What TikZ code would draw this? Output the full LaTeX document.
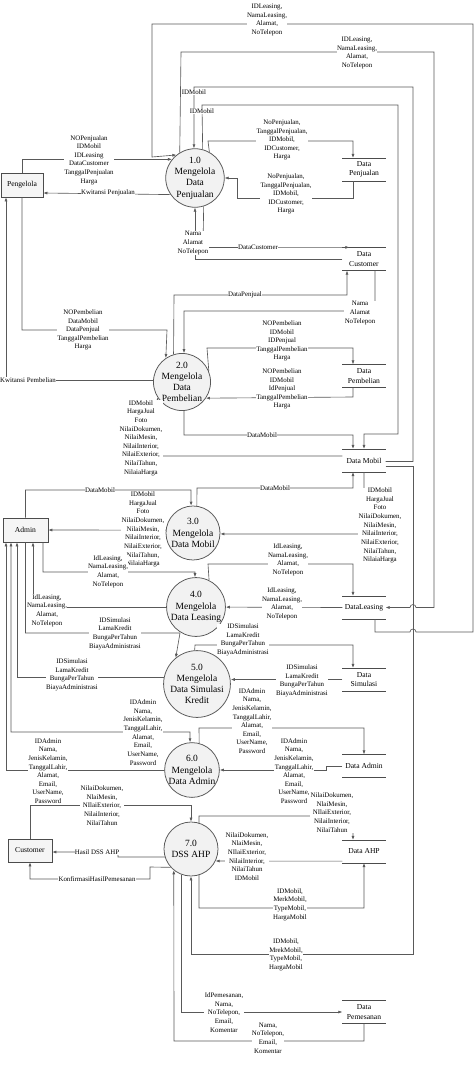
\documentclass[tikz,border=0pt]{standalone}
\usepackage{fontspec}
\setmainfont{Liberation Serif}
\usepackage{tikz}
\usetikzlibrary{arrows.meta,calc}

\begin{document}
\begin{tikzpicture}[
  x=0.5mm, y=-0.5mm,
  >={Latex[length=2mm,width=1.5mm]},
  process/.style={circle, draw=black!65, line width=1.1pt, fill=gray!10,
    minimum size=27mm, inner sep=0pt, align=center,
    font=\fontsize{13.5}{16}\selectfont},
  entity/.style={draw=black!70, line width=0.9pt, fill=gray!8,
    minimum height=12mm, inner sep=0pt, font=\fontsize{10.8}{13.7}\selectfont},
  store/.style={minimum width=21.5mm, minimum height=11.5mm, inner sep=0pt,
    align=center, font=\fontsize{10.8}{13.7}\selectfont},
  storeline/.style={draw=black!70, line width=0.9pt},
  flow/.style={->, draw=black!65, line width=0.9pt},
  lbl/.style={fill=white, inner sep=0.4pt, align=center,
    font=\fontsize{9.8}{12.3}\selectfont}
]
  \useasboundingbox (0,0) rectangle (475,1066);

  \node[entity, minimum width=21mm] (pengelola) at (22,185) {Pengelola};
  \node[entity, minimum width=22.5mm] (admin) at (25.5,530) {Admin};
  \node[entity, minimum width=22mm, minimum height=11.5mm] (customer) at (30,850.5) {Customer};

  \node[process] (penjualan) at (195,178) {1.0\\Mengelola\\Data\\Penjualan};
  \node[process] (pembelian) at (182,382) {2.0\\Mengelola\\Data\\Pembelian};
  \node[process] (mobil) at (193,533) {3.0\\Mengelola\\Data Mobil};
  \node[process] (leasing) at (196,607) {4.0\\Mengelola\\Data Leasing};
  \node[process] (simulasi) at (197,684) {5.0\\Mengelola\\Data Simulasi\\Kredit};
  \node[process] (kelola) at (192,770) {6.0\\Mengelola\\Data Admin};
  \node[process] (dss) at (191,849) {7.0\\DSS AHP};

  \node[store] (tPenjualan) at (364,169.5) {Data\\Penjualan};
  \node[store] (tCustomer) at (364,259) {Data\\Customer};
  \node[store] (tPembelian) at (364,376) {Data\\Pembelian};
  \node[store] (tMobil) at (364,460.5) {Data Mobil};
  \node[store] (tLeasing) at (364,607.5) {DataLeasing};
  \node[store] (tSimulasi) at (364,679.5) {Data\\Simulasi};
  \node[store] (tAdmin) at (364,766) {Data Admin};
  \node[store] (tAHP) at (364,851.5) {Data AHP};
  \node[store] (tPemesanan) at (364,1012) {Data\\Pemesanan};

  \foreach \s in {tPenjualan,tCustomer,tPembelian,tMobil,tLeasing,tSimulasi,tAdmin,tAHP,tPemesanan}
    \draw[storeline] (\s.north west) -- (\s.north east) (\s.south west) -- (\s.south east);

  \draw[flow] ($(tLeasing.south)+(11,0)$) -- (375,632) -- (410,632)
    arc[start angle=180, end angle=0, radius=1.5mm] -- (473,632) -- (473,24)
    -- (152,24) -- (152,157) -- (penjualan.129);
  \draw[flow] (pengelola.north) |- (penjualan.141);
  \draw[flow] (penjualan.121) -- (181,52) -- (434,52) -- (434,607.5) -- (416,607.5)
    arc[start angle=0, end angle=180, radius=1.5mm] -- (tLeasing.east);
  \draw[flow] ($(tMobil.east)+(0,1)$) -- (413,461.5) -- (413,87) -- (194,87) -- (penjualan.92);
  \draw[flow] (penjualan.75) -- (202,105) -- (398,105) -- (398,434) -- (364,434) -- (tMobil.north);
  \draw[flow] (penjualan.61) -- (208,141) -- (353,141) -- ($(tPenjualan.north)+(-11,0)$);
  \draw[flow] ($(tPenjualan.south)+(-11,0)$) -- (353,198) -- (237,198) -- (237,178) -- (penjualan.east);
  \draw[flow] (penjualan.214) -- ($(pengelola.east)+(0,8)$);
  \draw[flow] (penjualan.-73) -- (203,247.5) -- ($(tCustomer.north west)+(7,0)$);
  \draw[flow] (tCustomer.west) -| (penjualan.south);

  \draw[flow] (pengelola.south) -- (22,330) -- (167,330) -- (pembelian.124);
  \draw[flow] (pembelian.176) -| ($(pengelola.south)+(-16,0)$);
  \draw[flow] (pembelian.107) -- (174,295) -- (347,295) -- ($(tCustomer.south)+(-17,0)$);
  \draw[flow] ($(tCustomer.south)+(11,0)$) -- (375,311) -- (184,311) -- (pembelian.86);
  \draw[flow] (pembelian.22) -- (207,348) -- (353,348) -- ($(tPembelian.north)+(-11,0)$);
  \draw[flow] ($(tPembelian.south)+(-11,0)$) -- (353,397) -- (pembelian.-34);
  \draw[flow] (pembelian.-86) -- (184,435) -- (353,435) -- ($(tMobil.north)+(-11,0)$);
  \draw[flow] ($(tMobil.west)+(0,-4.5)$) -- (159,456) -- (pembelian.-148);

  \draw[flow] (admin.north) -- (25.5,490) -- (191,490) -- (mobil.94);
  \draw[flow] (mobil.82) -- (197,488) -- (353,488) -- ($(tMobil.south)+(-11,0)$);
  \draw[flow] (tMobil.south) -- (364,534) -- (mobil.-2);
  \draw[flow] (mobil.174) -- (admin.east);

  \draw[flow] ($(admin.south)+(17.5,0)$) -- (43,572) -- (195,572) -- (leasing.92);
  \draw[flow] (leasing.64) -- (208,564) -- (353,564) -- ($(tLeasing.north)+(-11,0)$);
  \draw[flow] (tLeasing.west) -- (leasing);
  \draw[flow] (leasing.west) -| ($(admin.south)+(7.5,0)$);

  \draw[flow] (admin.south) -- (25.5,633) -- (180,633) -- (simulasi.129);
  \draw[flow] (simulasi.169) -| ($(admin.south)+(-8.5,0)$);
  \draw[flow] (simulasi.94) -- (195,645) -- (353,645) -- ($(tSimulasi.north)+(-11,0)$);
  \draw[flow] (tSimulasi.west) -- (tSimulasi.west -| simulasi.east);

  \draw[flow, <->] ($(admin.south)+(-14.5,0)$) -- (11,732) -- (190,732) -- (kelola.94);
  \draw[flow] (kelola.west) -| ($(admin.south)+(-19.5,0)$);
  \draw[flow] (kelola.75) -- (199,728) -- (364,728) -- (tAdmin.north);
  \draw[flow] (tAdmin.west) -- (326,766) -- (326,770) -- (kelola.east);

  \draw[flow] (customer.north) -- (30,805) -- (191,805) -- (dss.north);
  \draw[flow] (dss.73) -- (199,816) -- (353,816) -- ($(tAHP.north)+(-11,0)$);
  \draw[flow] ($(tAHP.south west)+(0,-2)$) -- (dss.-26);
  \draw[flow] (dss.-73) -- (199,908) -- (364,908) -- (tAHP.south);
  \draw[flow] ($(tMobil.east)+(0,6)$) -- (413,466.5) -- (413,954) -- (191,954) -- (dss.south);
  \draw[flow] (dss.197) -- (118,857) -- (118,852) -- ($(customer.east)+(0,1.5)$);
  \draw[flow] (dss.222) -- (150,867) -- (150,879) -- (30,879) -- (customer.south);
  \draw[flow] (dss.-110) |- (tPemesanan.west);
  \draw[flow] (tPemesanan.south) -- (364,1041) -- (174,1041) -- (dss.-129);

  \node[lbl] (lbLeasOut) at (267,20) {IDLeasing,\\NamaLeasing,\\Alamat,\\NoTelepon};
  \node[lbl] (lbLeasIn) at (357,53) {IDLeasing,\\NamaLeasing,\\Alamat,\\NoTelepon};
  \node[lbl] (lbMobilA) at (194,92) {IDMobil};
  \node[lbl] (lbMobilB) at (202,111) {IDMobil};
  \node[lbl] (lbPengA) at (89,160) {NOPenjualan\\IDMobil\\IDLeasing\\DataCustomer\\TanggalPenjualan\\Harga};
  \node[lbl] (lbKwitA) at (108,193) {Kwitansi Penjualan};
  \node[lbl] (lbPenjA) at (282,140) {NoPenjualan,\\TanggalPenjualan,\\IDMobil,\\IDCustomer,\\Harga};
  \node[lbl] (lbPenjB) at (286,194) {NoPenjualan,\\TanggalPenjualan,\\IDMobil,\\IDCustomer,\\Harga};
  \node[lbl] (lbCustA) at (193,243) {Nama\\Alamat\\NoTelepon};
  \node[lbl] (lbCustB) at (258,247.5) {DataCustomer};
  \node[lbl] (lbPenjual) at (245,295) {DataPenjual};
  \node[lbl] (lbCustC) at (360,313) {Nama\\Alamat\\NoTelepon};
  \node[lbl] (lbPengB) at (83,330) {NOPembelian\\DataMobil\\DataPenjual\\TanggalPembelian\\Harga};
  \node[lbl] (lbKwitB) at (28,380) {Kwitansi Pembelian};
  \node[lbl] (lbPembA) at (282,341) {NOPembelian\\IDMobil\\IDPenjual\\TanggalPembelian\\Harga};
  \node[lbl] (lbPembB) at (282,389) {NOPembelian\\IDMobil\\IdPenjual\\TanggalPembelian\\Harga};
  \node[lbl] (lbMobilC) at (141,438) {IDMobil\\HargaJual\\Foto\\NilaiDokumen,\\NilaiMesin,\\NilaiInterior,\\NilaiExterior,\\NilaiTahun,\\NilaiaHarga};
  \node[lbl] (lbDMobilA) at (262,435) {DataMobil};
  \node[lbl] (lbDMobilB) at (100,490) {DataMobil};
  \node[lbl] (lbDMobilC) at (275,488) {DataMobil};
  \node[lbl] (lbMobilD) at (143,529.5) {IDMobil\\HargaJual\\Foto\\NilaiDokumen,\\NilaiMesin,\\NilaiInterior,\\NilaiExterior,\\NilaiTahun,\\NilaiaHarga};
  \node[lbl] (lbMobilE) at (380,525.5) {IDMobil\\HargaJual\\Foto\\NilaiDokumen,\\NilaiMesin,\\NilaiInterior,\\NilaiExterior,\\NilaiTahun,\\NilaiaHarga};
  \node[lbl] (lbLeasA) at (108,571.5) {IdLeasing,\\NamaLeasing,\\Alamat,\\NoTelepon};
  \node[lbl] (lbLeasB) at (288,560) {IdLeasing,\\NamaLeasing,\\Alamat,\\NoTelepon};
  \node[lbl] (lbLeasC) at (282,604) {IdLeasing,\\NamaLeasing,\\Alamat,\\NoTelepon};
  \node[lbl] (lbLeasD) at (47,610.5) {IdLeasing,\\NamaLeasing,\\Alamat,\\NoTelepon};
  \node[lbl] (lbSimA) at (115,633.5) {IDSimulasi\\LamaKredit\\BungaPerTahun\\BiayaAdministrasi};
  \node[lbl] (lbSimB) at (72,675) {IDSimulasi\\LamaKredit\\BungaPerTahun\\BiayaAdministrasi};
  \node[lbl] (lbSimC) at (243,640) {IDSimulasi\\LamaKredit\\BungaPerTahun\\BiayaAdministrasi};
  \node[lbl] (lbSimD) at (302,681) {IDSimulasi\\LamaKredit\\BungaPerTahun\\BiayaAdministrasi};
  \node[lbl] (lbAdmA) at (143,732.5) {IDAdmin\\Nama,\\JenisKelamin,\\TanggalLahir,\\Alamat,\\Email,\\UserName,\\Password};
  \node[lbl] (lbAdmB) at (252,721) {IDAdmin\\Nama,\\JenisKelamin,\\TanggalLahir,\\Alamat,\\Email,\\UserName,\\Password};
  \node[lbl] (lbAdmC) at (48,771) {IDAdmin\\Nama,\\JenisKelamin,\\TanggalLahir,\\Alamat,\\Email,\\UserName,\\Password};
  \node[lbl] (lbAdmD) at (294,771) {IDAdmin\\Nama,\\JenisKelamin,\\TanggalLahir,\\Alamat,\\Email,\\UserName,\\Password};
  \node[lbl] (lbAhpA) at (102,805.5) {NilaiDokumen,\\NlaiMesin,\\NIlaiExterior,\\NilaiInterior,\\NilaiTahun};
  \node[lbl] (lbAhpB) at (332,812.5) {NilaiDokumen,\\NlaiMesin,\\NIlaiExterior,\\NilaiInterior,\\NilaiTahun};
  \node[lbl] (lbAhpC) at (247,856.5) {NilaiDokumen,\\NlaiMesin,\\NIlaiExterior,\\NilaiInterior,\\NilaiTahun\\IDMobil};
  \node[lbl] (lbHasil) at (97,852) {Hasil DSS AHP};
  \node[lbl] (lbKonf) at (97,879) {KonfirmasiHasilPemesanan};
  \node[lbl] (lbMerkA) at (290,904.5) {IDMobil,\\MerkMobil,\\TypeMobil,\\HargaMobil};
  \node[lbl] (lbMerkB) at (286,955) {IDMobil,\\MrekMobil,\\TypeMobil,\\HargaMobil};
  \node[lbl] (lbPsnA) at (224,1012.5) {IdPemesanan,\\Nama,\\NoTelepon,\\Email,\\Komentar};
  \node[lbl] (lbPsnB) at (268,1038) {Nama,\\NoTelepon,\\Email,\\Komentar};
\end{tikzpicture}
\end{document}
